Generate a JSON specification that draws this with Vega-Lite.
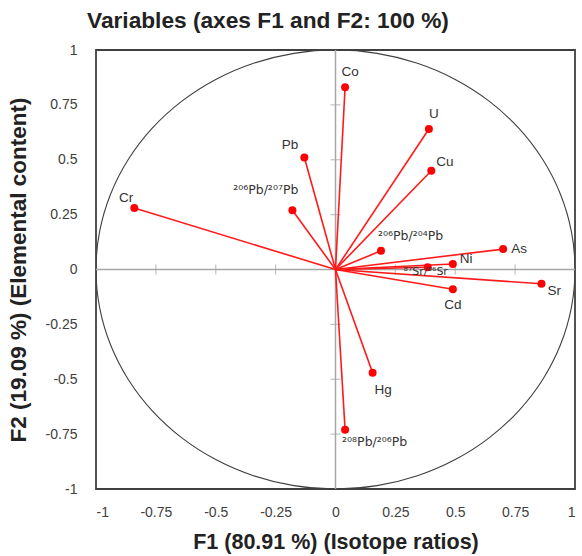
{
  "$schema": "https://vega.github.io/schema/vega-lite/v6.json",
  "width": 479,
  "height": 439,
  "autosize": {"type": "none"},
  "padding": {"left": 96, "top": 50, "right": 7, "bottom": 67},
  "background": "white",
  "config": {
    "view": {"stroke": "#404040", "strokeWidth": 1.8},
    "font": "Liberation Sans"
  },
  "title": {
    "text": "Variables (axes F1 and F2: 100 %)",
    "anchor": "start",
    "frame": "group",
    "dx": -9,
    "fontSize": 22.7,
    "fontWeight": "bold",
    "color": "#222222",
    "offset": 10
  },
  "datasets": {
    "vars": [
      {"name": "Co", "x": 0.04, "y": 0.83},
      {"name": "U", "x": 0.39, "y": 0.64},
      {"name": "Cu", "x": 0.40, "y": 0.45},
      {"name": "Pb", "x": -0.13, "y": 0.51},
      {"name": "²⁰⁶Pb/²⁰⁷Pb", "x": -0.18, "y": 0.27},
      {"name": "Cr", "x": -0.84, "y": 0.28},
      {"name": "²⁰⁶Pb/²⁰⁴Pb", "x": 0.19, "y": 0.085},
      {"name": "As", "x": 0.70, "y": 0.093},
      {"name": "Ni", "x": 0.49, "y": 0.025},
      {"name": "⁸⁷Sr/⁸⁶Sr", "x": 0.385, "y": 0.01},
      {"name": "Cd", "x": 0.49, "y": -0.09},
      {"name": "Sr", "x": 0.86, "y": -0.065},
      {"name": "Hg", "x": 0.155, "y": -0.47},
      {"name": "²⁰⁸Pb/²⁰⁶Pb", "x": 0.04, "y": -0.73}
    ],
    "circle": [
      {"i": 0, "cx": 1, "cy": 0},
      {"i": 1, "cx": 0.9848, "cy": 0.1736},
      {"i": 2, "cx": 0.9397, "cy": 0.342},
      {"i": 3, "cx": 0.866, "cy": 0.5},
      {"i": 4, "cx": 0.766, "cy": 0.6428},
      {"i": 5, "cx": 0.6428, "cy": 0.766},
      {"i": 6, "cx": 0.5, "cy": 0.866},
      {"i": 7, "cx": 0.342, "cy": 0.9397},
      {"i": 8, "cx": 0.1736, "cy": 0.9848},
      {"i": 9, "cx": 0, "cy": 1},
      {"i": 10, "cx": -0.1736, "cy": 0.9848},
      {"i": 11, "cx": -0.342, "cy": 0.9397},
      {"i": 12, "cx": -0.5, "cy": 0.866},
      {"i": 13, "cx": -0.6428, "cy": 0.766},
      {"i": 14, "cx": -0.766, "cy": 0.6428},
      {"i": 15, "cx": -0.866, "cy": 0.5},
      {"i": 16, "cx": -0.9397, "cy": 0.342},
      {"i": 17, "cx": -0.9848, "cy": 0.1736},
      {"i": 18, "cx": -1, "cy": 0},
      {"i": 19, "cx": -0.9848, "cy": -0.1736},
      {"i": 20, "cx": -0.9397, "cy": -0.342},
      {"i": 21, "cx": -0.866, "cy": -0.5},
      {"i": 22, "cx": -0.766, "cy": -0.6428},
      {"i": 23, "cx": -0.6428, "cy": -0.766},
      {"i": 24, "cx": -0.5, "cy": -0.866},
      {"i": 25, "cx": -0.342, "cy": -0.9397},
      {"i": 26, "cx": -0.1736, "cy": -0.9848},
      {"i": 27, "cx": 0, "cy": -1},
      {"i": 28, "cx": 0.1736, "cy": -0.9848},
      {"i": 29, "cx": 0.342, "cy": -0.9397},
      {"i": 30, "cx": 0.5, "cy": -0.866},
      {"i": 31, "cx": 0.6428, "cy": -0.766},
      {"i": 32, "cx": 0.766, "cy": -0.6428},
      {"i": 33, "cx": 0.866, "cy": -0.5},
      {"i": 34, "cx": 0.9397, "cy": -0.342},
      {"i": 35, "cx": 0.9848, "cy": -0.1736}
    ],
    "ticks": [
      {"v": -0.75}, {"v": -0.5}, {"v": -0.25}, {"v": 0.25}, {"v": 0.5}, {"v": 0.75}
    ],
    "origin": [{"v": 0}]
  },
  "layer": [
    {
      "data": {"name": "circle"},
      "mark": {"type": "line", "interpolate": "cardinal-closed", "color": "#404040", "strokeWidth": 1.1, "clip": true},
      "encoding": {
        "x": {
          "field": "cx", "type": "quantitative",
          "scale": {"domain": [-1, 1], "nice": false, "zero": false},
          "axis": {
            "values": [-1, -0.75, -0.5, -0.25, 0, 0.25, 0.5, 0.75, 1],
            "labelExpr": "'' + datum.value",
            "domain": false, "ticks": false, "grid": false,
            "labelFontSize": 14, "labelColor": "#404040", "labelPadding": 16,
            "title": "F1 (80.91 %) (Isotope ratios)",
            "titleFontSize": 21.5, "titleFontWeight": "bold", "titleColor": "#222222", "titlePadding": 12
          }
        },
        "y": {
          "field": "cy", "type": "quantitative",
          "scale": {"domain": [-1, 1], "nice": false, "zero": false},
          "axis": {
            "values": [-1, -0.75, -0.5, -0.25, 0, 0.25, 0.5, 0.75, 1],
            "labelExpr": "'' + datum.value",
            "domain": false, "ticks": false, "grid": false,
            "labelFontSize": 14, "labelColor": "#404040", "labelPadding": 19,
            "title": "F2 (19.09 %) (Elemental content)",
            "titleFontSize": 22.5, "titleFontWeight": "bold", "titleColor": "#222222", "titlePadding": 15
          }
        },
        "order": {"field": "i", "type": "quantitative"}
      }
    },
    {
      "data": {"name": "origin"},
      "mark": {"type": "rule", "color": "#a6a6a6", "strokeWidth": 1.5},
      "encoding": {"x": {"field": "v", "type": "quantitative"}}
    },
    {
      "data": {"name": "origin"},
      "mark": {"type": "rule", "color": "#a6a6a6", "strokeWidth": 1.5},
      "encoding": {"y": {"field": "v", "type": "quantitative"}}
    },
    {
      "data": {"name": "ticks"},
      "mark": {"type": "tick", "orient": "vertical", "color": "#a6a6a6", "size": 10, "thickness": 1.2},
      "encoding": {"x": {"field": "v", "type": "quantitative"}, "y": {"datum": 0, "type": "quantitative"}}
    },
    {
      "data": {"name": "ticks"},
      "mark": {"type": "tick", "orient": "horizontal", "color": "#a6a6a6", "size": 10, "thickness": 1.2},
      "encoding": {"y": {"field": "v", "type": "quantitative"}, "x": {"datum": 0, "type": "quantitative"}}
    },
    {
      "data": {"name": "vars"},
      "mark": {"type": "rule", "color": "#ff1a1a", "strokeWidth": 1.6},
      "encoding": {
        "x": {"field": "x", "type": "quantitative"}, "y": {"field": "y", "type": "quantitative"},
        "x2": {"datum": 0}, "y2": {"datum": 0}
      }
    },
    {
      "data": {"name": "vars"},
      "mark": {"type": "point", "shape": "circle", "filled": true, "color": "#ff0000", "size": 64, "opacity": 1},
      "encoding": {
        "x": {"field": "x", "type": "quantitative"},
        "y": {"field": "y", "type": "quantitative"}
      }
    },
    {
      "data": {"name": "vars"},
      "transform": [{"filter": {"field": "name", "oneOf": ["Co", "U"]}}],
      "mark": {"type": "text", "align": "center", "dx": 5, "dy": -15, "fontSize": 13.5, "color": "#333333"},
      "encoding": {"x": {"field": "x", "type": "quantitative"}, "y": {"field": "y", "type": "quantitative"}, "text": {"field": "name"}}
    },
    {
      "data": {"name": "vars"},
      "transform": [{"filter": {"field": "name", "oneOf": ["Cu"]}}],
      "mark": {"type": "text", "align": "left", "dx": 5, "dy": -9, "fontSize": 13.5, "color": "#333333"},
      "encoding": {"x": {"field": "x", "type": "quantitative"}, "y": {"field": "y", "type": "quantitative"}, "text": {"field": "name"}}
    },
    {
      "data": {"name": "vars"},
      "transform": [{"filter": {"field": "name", "oneOf": ["Pb"]}}],
      "mark": {"type": "text", "align": "right", "dx": -6, "dy": -13, "fontSize": 13.5, "color": "#333333"},
      "encoding": {"x": {"field": "x", "type": "quantitative"}, "y": {"field": "y", "type": "quantitative"}, "text": {"field": "name"}}
    },
    {
      "data": {"name": "vars"},
      "transform": [{"filter": {"field": "name", "oneOf": ["²⁰⁶Pb/²⁰⁷Pb"]}}],
      "mark": {"type": "text", "align": "right", "dx": 6, "dy": -20, "fontSize": 12.5, "font": "DejaVu Sans", "color": "#333333"},
      "encoding": {"x": {"field": "x", "type": "quantitative"}, "y": {"field": "y", "type": "quantitative"}, "text": {"field": "name"}}
    },
    {
      "data": {"name": "vars"},
      "transform": [{"filter": {"field": "name", "oneOf": ["Cr"]}}],
      "mark": {"type": "text", "align": "right", "dx": -1, "dy": -10, "fontSize": 13.5, "color": "#333333"},
      "encoding": {"x": {"field": "x", "type": "quantitative"}, "y": {"field": "y", "type": "quantitative"}, "text": {"field": "name"}}
    },
    {
      "data": {"name": "vars"},
      "transform": [{"filter": {"field": "name", "oneOf": ["²⁰⁶Pb/²⁰⁴Pb"]}}],
      "mark": {"type": "text", "align": "left", "dx": -3, "dy": -15, "fontSize": 12.5, "font": "DejaVu Sans", "color": "#333333"},
      "encoding": {"x": {"field": "x", "type": "quantitative"}, "y": {"field": "y", "type": "quantitative"}, "text": {"field": "name"}}
    },
    {
      "data": {"name": "vars"},
      "transform": [{"filter": {"field": "name", "oneOf": ["²⁰⁸Pb/²⁰⁶Pb"]}}],
      "mark": {"type": "text", "align": "left", "dx": -3, "dy": 12, "fontSize": 12.5, "font": "DejaVu Sans", "color": "#333333"},
      "encoding": {"x": {"field": "x", "type": "quantitative"}, "y": {"field": "y", "type": "quantitative"}, "text": {"field": "name"}}
    },
    {
      "data": {"name": "vars"},
      "transform": [{"filter": {"field": "name", "oneOf": ["As"]}}],
      "mark": {"type": "text", "align": "left", "dx": 8, "dy": 0, "fontSize": 13.5, "color": "#333333"},
      "encoding": {"x": {"field": "x", "type": "quantitative"}, "y": {"field": "y", "type": "quantitative"}, "text": {"field": "name"}}
    },
    {
      "data": {"name": "vars"},
      "transform": [{"filter": {"field": "name", "oneOf": ["Ni"]}}],
      "mark": {"type": "text", "align": "left", "dx": 7, "dy": -5, "fontSize": 13.5, "color": "#333333"},
      "encoding": {"x": {"field": "x", "type": "quantitative"}, "y": {"field": "y", "type": "quantitative"}, "text": {"field": "name"}}
    },
    {
      "data": {"name": "vars"},
      "transform": [{"filter": {"field": "name", "oneOf": ["⁸⁷Sr/⁸⁶Sr"]}}],
      "mark": {"type": "text", "align": "center", "dx": -2, "dy": 5, "fontSize": 11, "font": "DejaVu Sans", "color": "#333333"},
      "encoding": {"x": {"field": "x", "type": "quantitative"}, "y": {"field": "y", "type": "quantitative"}, "text": {"field": "name"}}
    },
    {
      "data": {"name": "vars"},
      "transform": [{"filter": {"field": "name", "oneOf": ["Cd"]}}],
      "mark": {"type": "text", "align": "center", "dx": 0, "dy": 16, "fontSize": 13.5, "color": "#333333"},
      "encoding": {"x": {"field": "x", "type": "quantitative"}, "y": {"field": "y", "type": "quantitative"}, "text": {"field": "name"}}
    },
    {
      "data": {"name": "vars"},
      "transform": [{"filter": {"field": "name", "oneOf": ["Sr"]}}],
      "mark": {"type": "text", "align": "left", "dx": 6, "dy": 7, "fontSize": 13.5, "color": "#333333"},
      "encoding": {"x": {"field": "x", "type": "quantitative"}, "y": {"field": "y", "type": "quantitative"}, "text": {"field": "name"}}
    },
    {
      "data": {"name": "vars"},
      "transform": [{"filter": {"field": "name", "oneOf": ["Hg"]}}],
      "mark": {"type": "text", "align": "left", "dx": 2, "dy": 17, "fontSize": 13.5, "color": "#333333"},
      "encoding": {"x": {"field": "x", "type": "quantitative"}, "y": {"field": "y", "type": "quantitative"}, "text": {"field": "name"}}
    }
  ]
}
